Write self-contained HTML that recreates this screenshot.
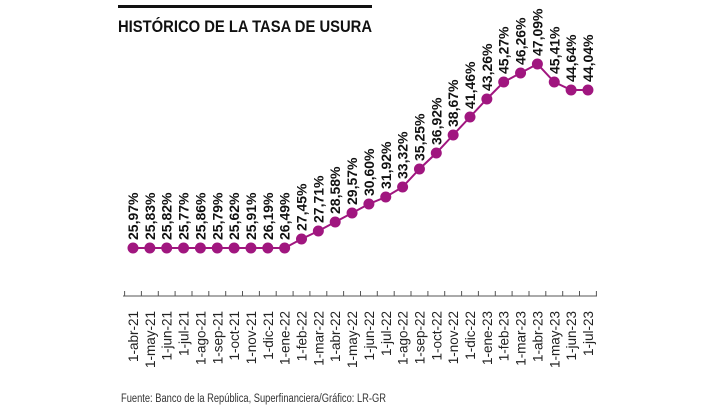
<!DOCTYPE html>
<html><head><meta charset="utf-8"><style>
html,body{margin:0;padding:0;background:#fff}
svg{display:block}
</style></head><body>
<svg width="720" height="405" xmlns="http://www.w3.org/2000/svg" font-family="Liberation Sans, sans-serif">
<rect x="118" y="5" width="254" height="3" fill="#111"/>
<text x="118" y="32" font-size="17" font-weight="bold" fill="#111" textLength="254" lengthAdjust="spacingAndGlyphs">HISTÓRICO DE LA TASA DE USURA</text>

<polyline points="133,248 149.85,248 166.7,248 183.55,248 200.4,248 217.25,248 234.1,248 250.95,248 267.8,248 284.65,248 301.5,239 318.35,231 335.2,222 352.05,213 368.9,204 385.75,197 402.6,187 419.45,169 436.3,153 453.15,135 470,117 486.85,99 503.7,82 520.55,73 537.4,64 554.25,82 571.1,90 587.95,90" fill="none" stroke="#a0167f" stroke-width="2"/>
<g fill="#a0167f">
<circle cx="133" cy="248" r="5.5"/><circle cx="149.85" cy="248" r="5.5"/><circle cx="166.7" cy="248" r="5.5"/><circle cx="183.55" cy="248" r="5.5"/><circle cx="200.4" cy="248" r="5.5"/><circle cx="217.25" cy="248" r="5.5"/><circle cx="234.1" cy="248" r="5.5"/><circle cx="250.95" cy="248" r="5.5"/><circle cx="267.8" cy="248" r="5.5"/><circle cx="284.65" cy="248" r="5.5"/><circle cx="301.5" cy="239" r="5.5"/><circle cx="318.35" cy="231" r="5.5"/><circle cx="335.2" cy="222" r="5.5"/><circle cx="352.05" cy="213" r="5.5"/><circle cx="368.9" cy="204" r="5.5"/><circle cx="385.75" cy="197" r="5.5"/><circle cx="402.6" cy="187" r="5.5"/><circle cx="419.45" cy="169" r="5.5"/><circle cx="436.3" cy="153" r="5.5"/><circle cx="453.15" cy="135" r="5.5"/><circle cx="470" cy="117" r="5.5"/><circle cx="486.85" cy="99" r="5.5"/><circle cx="503.7" cy="82" r="5.5"/><circle cx="520.55" cy="73" r="5.5"/><circle cx="537.4" cy="64" r="5.5"/><circle cx="554.25" cy="82" r="5.5"/><circle cx="571.1" cy="90" r="5.5"/><circle cx="587.95" cy="90" r="5.5"/>
</g>
<g font-size="14" font-weight="bold" fill="#111">
<text transform="translate(138,240) rotate(-90)">25,97%</text>
<text transform="translate(154.85,240) rotate(-90)">25,83%</text>
<text transform="translate(171.7,240) rotate(-90)">25,82%</text>
<text transform="translate(188.55,240) rotate(-90)">25,77%</text>
<text transform="translate(205.4,240) rotate(-90)">25,86%</text>
<text transform="translate(222.25,240) rotate(-90)">25,79%</text>
<text transform="translate(239.1,240) rotate(-90)">25,62%</text>
<text transform="translate(255.95,240) rotate(-90)">25,91%</text>
<text transform="translate(272.8,240) rotate(-90)">26,19%</text>
<text transform="translate(289.65,240) rotate(-90)">26,49%</text>
<text transform="translate(306.5,231) rotate(-90)">27,45%</text>
<text transform="translate(323.35,223) rotate(-90)">27,71%</text>
<text transform="translate(340.2,214) rotate(-90)">28,58%</text>
<text transform="translate(357.05,205) rotate(-90)">29,57%</text>
<text transform="translate(373.9,196) rotate(-90)">30,60%</text>
<text transform="translate(390.75,189) rotate(-90)">31,92%</text>
<text transform="translate(407.6,179) rotate(-90)">33,32%</text>
<text transform="translate(424.45,161) rotate(-90)">35,25%</text>
<text transform="translate(441.3,145) rotate(-90)">36,92%</text>
<text transform="translate(458.15,127) rotate(-90)">38,67%</text>
<text transform="translate(475,109) rotate(-90)">41,46%</text>
<text transform="translate(491.85,91) rotate(-90)">43,26%</text>
<text transform="translate(508.7,74) rotate(-90)">45,27%</text>
<text transform="translate(525.55,65) rotate(-90)">46,26%</text>
<text transform="translate(542.4,56) rotate(-90)">47,09%</text>
<text transform="translate(559.25,74) rotate(-90)">45,41%</text>
<text transform="translate(576.1,82) rotate(-90)">44,64%</text>
<text transform="translate(592.95,82) rotate(-90)">44,04%</text>
</g>
<path d="M123,296H597 M124.6,296V291 M141.4,296V291 M158.3,296V291 M175.1,296V291 M192,296V291 M208.8,296V291 M225.7,296V291 M242.5,296V291 M259.4,296V291 M276.2,296V291 M293.1,296V291 M309.9,296V291 M326.8,296V291 M343.6,296V291 M360.5,296V291 M377.3,296V291 M394.2,296V291 M411,296V291 M427.9,296V291 M444.7,296V291 M461.6,296V291 M478.4,296V291 M495.3,296V291 M512.1,296V291 M529,296V291 M545.8,296V291 M562.7,296V291 M579.5,296V291 M596.4,296V291" stroke="#555" stroke-width="1" fill="none"/>
<g font-size="13.5" fill="#222" text-anchor="end">
<text transform="translate(138,311) rotate(-90)">1-abr-21</text>
<text transform="translate(154.85,311) rotate(-90)">1-may-21</text>
<text transform="translate(171.7,311) rotate(-90)">1-jun-21</text>
<text transform="translate(188.55,311) rotate(-90)">1-jul-21</text>
<text transform="translate(205.4,311) rotate(-90)">1-ago-21</text>
<text transform="translate(222.25,311) rotate(-90)">1-sep-21</text>
<text transform="translate(239.1,311) rotate(-90)">1-oct-21</text>
<text transform="translate(255.95,311) rotate(-90)">1-nov-21</text>
<text transform="translate(272.8,311) rotate(-90)">1-dic-21</text>
<text transform="translate(289.65,311) rotate(-90)">1-ene-22</text>
<text transform="translate(306.5,311) rotate(-90)">1-feb-22</text>
<text transform="translate(323.35,311) rotate(-90)">1-mar-22</text>
<text transform="translate(340.2,311) rotate(-90)">1-abr-22</text>
<text transform="translate(357.05,311) rotate(-90)">1-may-22</text>
<text transform="translate(373.9,311) rotate(-90)">1-jun-22</text>
<text transform="translate(390.75,311) rotate(-90)">1-jul-22</text>
<text transform="translate(407.6,311) rotate(-90)">1-ago-22</text>
<text transform="translate(424.45,311) rotate(-90)">1-sep-22</text>
<text transform="translate(441.3,311) rotate(-90)">1-oct-22</text>
<text transform="translate(458.15,311) rotate(-90)">1-nov-22</text>
<text transform="translate(475,311) rotate(-90)">1-dic-22</text>
<text transform="translate(491.85,311) rotate(-90)">1-ene-23</text>
<text transform="translate(508.7,311) rotate(-90)">1-feb-23</text>
<text transform="translate(525.55,311) rotate(-90)">1-mar-23</text>
<text transform="translate(542.4,311) rotate(-90)">1-abr-23</text>
<text transform="translate(559.25,311) rotate(-90)">1-may-23</text>
<text transform="translate(576.1,311) rotate(-90)">1-jun-23</text>
<text transform="translate(592.95,311) rotate(-90)">1-jul-23</text>
</g>
<text x="121" y="402" font-size="11.5" fill="#333" textLength="265" lengthAdjust="spacingAndGlyphs">Fuente: Banco de la República, Superfinanciera/Gráfico: LR-GR</text>
</svg>
</body></html>
